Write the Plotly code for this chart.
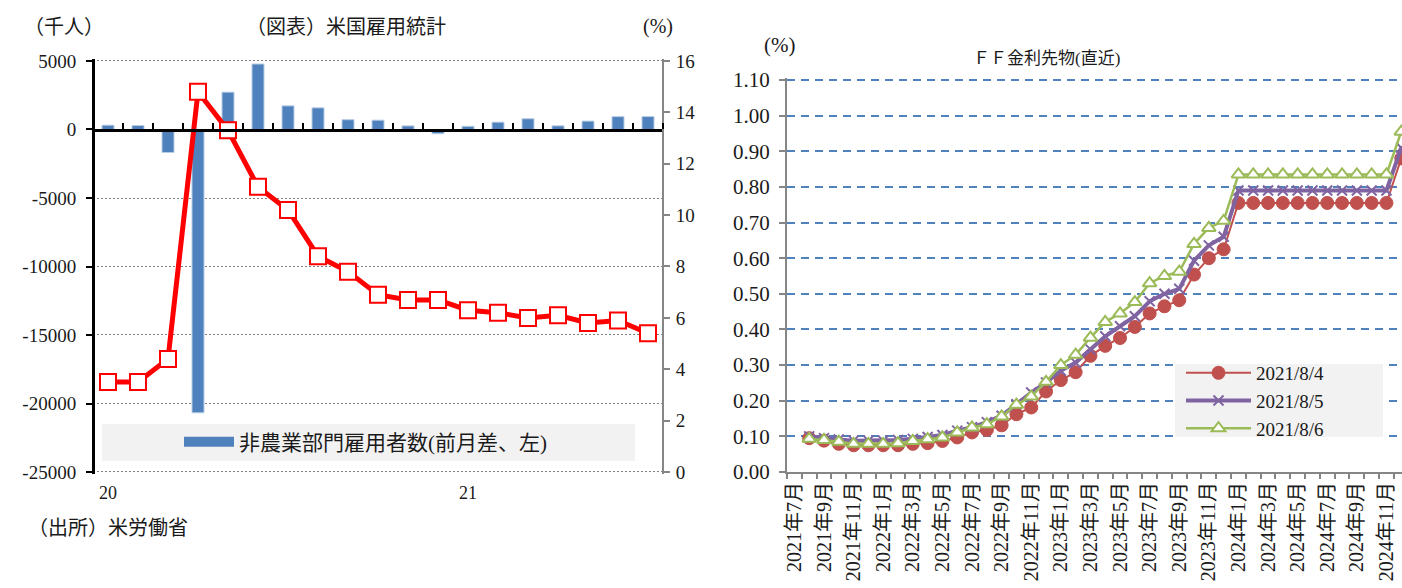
import plotly.graph_objects as go

W, H = 1402, 588
FONT = "'Liberation Serif', 'Noto Sans CJK JP', serif"
TXT = "#1a1a1a"

# ---- 米国雇用統計 (2020年1月〜2021年7月) ----
emp_months = [
    "2020/1", "2020/2", "2020/3", "2020/4", "2020/5", "2020/6", "2020/7",
    "2020/8", "2020/9", "2020/10", "2020/11", "2020/12",
    "2021/1", "2021/2", "2021/3", "2021/4", "2021/5", "2021/6", "2021/7",
]
# 非農業部門雇用者数 前月差(千人)
payrolls = [315, 289, -1683, -20679, 2725, 4781, 1726, 1583, 716, 680,
            264, -306, 233, 536, 785, 269, 614, 938, 943]
# 失業率(%)
unemployment = [3.5, 3.5, 4.4, 14.8, 13.3, 11.1, 10.2, 8.4, 7.8, 6.9,
                6.7, 6.7, 6.3, 6.2, 6.0, 6.1, 5.8, 5.9, 5.4]
year_labels = {"2020/1": "20", "2021/1": "21"}
left_ticks = [5000, 0, -5000, -10000, -15000, -20000, -25000]

# ---- FF金利先物 (直近) ----
ff_months = [f"{y}年{m}月" for y in range(2021, 2025) for m in range(1, 13)][6:]
ff_contracts = ff_months[1:]   # 2021年8月限〜2024年12月限
ff_0804 = [0.095, 0.088, 0.079, 0.075, 0.075, 0.075, 0.075, 0.079, 0.081, 0.087,
           0.097, 0.111, 0.118, 0.131, 0.162, 0.181, 0.226, 0.258, 0.280, 0.326,
           0.354, 0.376, 0.407, 0.445, 0.465, 0.482, 0.554, 0.600, 0.625,
           0.755, 0.755, 0.755, 0.755, 0.755, 0.755, 0.755, 0.755, 0.755, 0.755,
           0.755, 0.880]
ff_0805 = [0.100, 0.095, 0.091, 0.088, 0.088, 0.088, 0.090, 0.093, 0.098, 0.104,
           0.116, 0.126, 0.140, 0.158, 0.190, 0.223, 0.251, 0.284, 0.307, 0.344,
           0.381, 0.409, 0.437, 0.479, 0.500, 0.514, 0.593, 0.636, 0.660,
           0.790, 0.790, 0.790, 0.790, 0.790, 0.790, 0.790, 0.790, 0.790, 0.790,
           0.790, 0.910]
ff_0806 = [0.093, 0.090, 0.085, 0.079, 0.079, 0.079, 0.081, 0.087, 0.092, 0.097,
           0.111, 0.125, 0.134, 0.156, 0.189, 0.212, 0.253, 0.300, 0.329, 0.377,
           0.421, 0.445, 0.477, 0.530, 0.550, 0.562, 0.640, 0.685, 0.705,
           0.835, 0.835, 0.835, 0.835, 0.835, 0.835, 0.835, 0.835, 0.835, 0.835,
           0.835, 0.955]


def px_x(p):
    return p / W


def px_y(p):
    return 1 - p / H


# ---- plot-area geometry (pixels) ----
# left panel: 5000 at y=61, -25000 at y=472; ranges padded slightly so the
# outer dotted grid lines are kept
L_X0, L_X1, L_TOP, L_BOT = 93, 663, 61, 472
L_LO, L_HI, L_PAD = -25000, 5000, 150
l_scale = (L_BOT - L_TOP) / (L_HI - L_LO)
l_pad_px = L_PAD * l_scale
left_dom_y = [px_y(L_BOT + l_pad_px), px_y(L_TOP - l_pad_px)]
left_range = [L_LO - L_PAD, L_HI + L_PAD]
r2_pad = 16 * L_PAD / (L_HI - L_LO)
zero_pos = left_dom_y[0] + (0 - left_range[0]) / (left_range[1] - left_range[0]) * (
    left_dom_y[1] - left_dom_y[0])

# right panel: 0.00 at y=472, 1.10 at y=80
R_X0, R_TOP, R_BOT = 787, 80, 472
R_HI, R_PAD = 1.10, 0.007
r_top_px = R_TOP - R_PAD * (R_BOT - R_TOP) / R_HI

fig = go.Figure()

# 非農業部門雇用者数 (bars, left axis)
fig.add_trace(go.Bar(
    x=emp_months, y=payrolls, xaxis="x", yaxis="y",
    marker=dict(color="#4f81bd", line=dict(color="#b9cde5", width=1)),
    showlegend=False, name="非農業部門雇用者数(前月差、左)",
))
# legend swatch for the bar series
fig.add_trace(go.Scatter(
    x=[emp_months[0]], y=[None], xaxis="x", yaxis="y", mode="lines",
    line=dict(color="#4f81bd", width=11),
    name="非農業部門雇用者数(前月差、左)", legend="legend",
))
# 失業率 (line, right axis)
fig.add_trace(go.Scatter(
    x=emp_months, y=unemployment, xaxis="x", yaxis="y2",
    mode="lines+markers", showlegend=False, name="失業率(右)",
    line=dict(color="#ff0000", width=5),
    marker=dict(symbol="square", size=16, color="white",
                line=dict(color="#ff0000", width=2)),
))

# FF金利先物 3 series
fig.add_trace(go.Scatter(
    x=ff_contracts, y=ff_0804, xaxis="x2", yaxis="y3", name="2021/8/4",
    legend="legend2", mode="lines+markers",
    line=dict(color="#c0504d", width=2),
    marker=dict(symbol="circle", size=13, color="#c0504d",
                line=dict(color="#c0504d", width=1)),
))
fig.add_trace(go.Scatter(
    x=ff_contracts, y=ff_0805, xaxis="x2", yaxis="y3", name="2021/8/5",
    legend="legend2", mode="lines+markers",
    line=dict(color="#8064a2", width=4),
    marker=dict(symbol="x-thin", size=10, line=dict(color="#8064a2", width=2)),
))
fig.add_trace(go.Scatter(
    x=ff_contracts, y=ff_0806, xaxis="x2", yaxis="y3", name="2021/8/6",
    legend="legend2", mode="lines+markers",
    line=dict(color="#9bbb59", width=2.5),
    marker=dict(symbol="triangle-up", size=12, color="white",
                line=dict(color="#9bbb59", width=2)),
))

left_font = dict(family=FONT, size=19, color=TXT)
right_font = dict(family=FONT, size=21, color=TXT)

fig.update_layout(
    width=W, height=H,
    margin=dict(l=0, r=0, t=0, b=0),
    paper_bgcolor="white", plot_bgcolor="rgba(0,0,0,0)",
    font=dict(family=FONT, size=19, color=TXT),
    bargap=0.6,
    xaxis=dict(
        domain=[px_x(L_X0), px_x(L_X1)], anchor="free", position=zero_pos,
        side="top", type="category", categoryorder="array",
        categoryarray=emp_months, range=[-0.5, len(emp_months) - 0.5],
        tickson="boundaries",
        ticks="outside", ticklen=6, tickwidth=2, tickcolor="black",
        showticklabels=False, showline=True, linecolor="black", linewidth=3,
        showgrid=False, zeroline=False, automargin=False,
    ),
    yaxis=dict(
        domain=left_dom_y, anchor="free", position=px_x(L_X0),
        range=left_range, tickvals=left_ticks,
        ticktext=[str(v) for v in left_ticks], tickfont=left_font,
        ticks="outside", ticklen=6, tickwidth=2, tickcolor="black",
        ticklabelstandoff=6,
        showline=True, linecolor="black", linewidth=3,
        showgrid=True, gridcolor="#7f7f7f", gridwidth=1, griddash="2px,2px",
        zeroline=False, automargin=False,
    ),
    yaxis2=dict(
        overlaying="y", side="right", anchor="free", position=px_x(L_X1),
        range=[-r2_pad, 16 + r2_pad], tickvals=list(range(0, 17, 2)),
        tickfont=left_font, ticklabelstandoff=2,
        ticks="outside", ticklen=6, tickwidth=1.5, tickcolor="#868686",
        showline=True, linecolor="#868686", linewidth=2,
        showgrid=False, zeroline=False, automargin=False,
    ),
    xaxis2=dict(
        domain=[px_x(R_X0), 1.0], anchor="y3", type="category",
        categoryorder="array", categoryarray=ff_months,
        range=[-0.5, 41.05], tickvals=ff_months,
        ticktext=[m if i % 2 == 0 else "" for i, m in enumerate(ff_months)],
        tickangle=-90, tickfont=dict(family=FONT, size=20, color=TXT),
        tickson="boundaries", ticks="outside", ticklen=5, tickwidth=1.5,
        tickcolor="#868686", showline=True, linecolor="#868686", linewidth=2,
        showgrid=False, zeroline=False, automargin=False,
    ),
    yaxis3=dict(
        domain=[px_y(R_BOT), px_y(r_top_px)], anchor="x2",
        range=[0, R_HI + R_PAD], tickvals=[i / 10 for i in range(12)],
        tickformat=".2f", tickfont=right_font, ticklabelstandoff=5,
        ticks="outside", ticklen=6, tickwidth=1.5, tickcolor="#868686",
        showline=True, linecolor="#868686", linewidth=2,
        showgrid=True, gridcolor="#4f81bd", gridwidth=2, griddash="8px,6px",
        zeroline=False, automargin=False,
    ),
    legend=dict(
        x=px_x(179), y=px_y(442), xanchor="left", yanchor="middle",
        bgcolor="rgba(0,0,0,0)", font=dict(family=FONT, size=21, color=TXT),
        itemwidth=50,
    ),
    legend2=dict(
        x=px_x(1181), y=px_y(401), xanchor="left", yanchor="middle",
        bgcolor="rgba(0,0,0,0)", font=dict(family=FONT, size=19, color=TXT),
        tracegroupgap=0, itemwidth=65,
    ),
    shapes=[
        dict(type="rect", xref="paper", yref="paper", layer="below",
             x0=px_x(102), x1=px_x(635), y0=px_y(461), y1=px_y(424),
             fillcolor="#f2f2f2", line=dict(width=0)),
        # legend panel of the FF chart sits over the dashed grid
        dict(type="rect", xref="paper", yref="paper", layer="above",
             x0=px_x(1175), x1=px_x(1383), y0=px_y(437), y1=px_y(364),
             fillcolor="#f2f2f2", line=dict(width=0)),
    ],
)

annotations = [
    dict(text="（千人）", x=px_x(64), y=px_y(27), size=20),
    dict(text="（図表）米国雇用統計", x=px_x(346), y=px_y(27), size=20),
    dict(text="(%)", x=px_x(658), y=px_y(27), size=20),
    dict(text="（出所）米労働省", x=px_x(26), y=px_y(528), xanchor="left", size=20),
    dict(text="(%)", x=px_x(779), y=px_y(45), size=21),
    dict(text="ＦＦ金利先物(直近)", x=px_x(1046), y=px_y(58), size=17),
]
for a in annotations:
    fig.add_annotation(
        text=a["text"], x=a["x"], y=a["y"], xref="paper", yref="paper",
        xanchor=a.get("xanchor", "center"), yanchor="middle", showarrow=False,
        font=dict(family=FONT, size=a["size"], color=TXT),
    )
for m, lab in year_labels.items():
    fig.add_annotation(
        text=lab, x=m, xref="x", y=px_y(493), yref="paper",
        xanchor="center", yanchor="middle", showarrow=False,
        font=dict(family=FONT, size=18, color=TXT),
    )

fig.write_html("out.html")
